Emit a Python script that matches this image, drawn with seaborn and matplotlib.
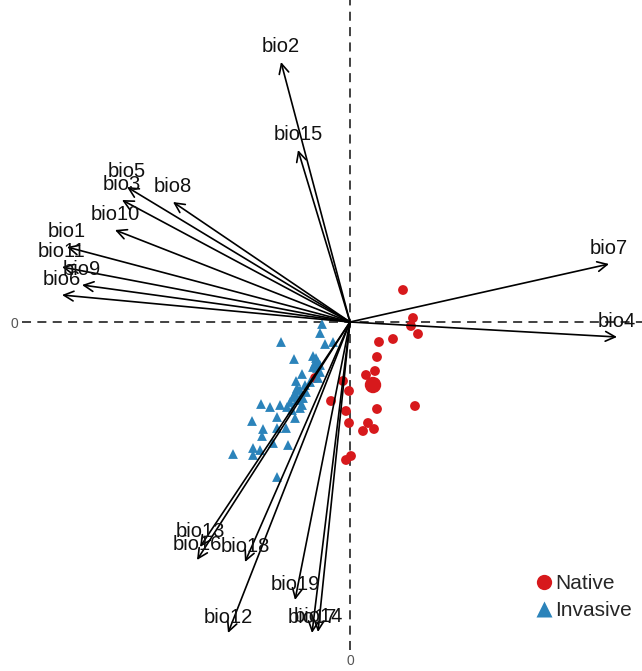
import matplotlib
matplotlib.use("Agg")
import matplotlib.pyplot as plt
from matplotlib.lines import Line2D
import pandas as pd
import seaborn as sns


# biplot loadings (arrow tips), PC1 / PC2
VARIABLES = ["bio1", "bio2", "bio3", "bio4", "bio5", "bio6", "bio7", "bio8", "bio9", "bio10",
             "bio11", "bio12", "bio13", "bio14", "bio15", "bio16", "bio17", "bio18", "bio19"]
LOAD_PC1 = [-2.83, -0.69, -2.28, 2.67, -2.23, -2.88, 2.59, -1.77, -2.68, -2.35,
            -2.88, -1.22, -1.50, -0.32, -0.52, -1.53, -0.38, -1.05, -0.55]
LOAD_PC2 = [0.75, 2.60, 1.22, -0.15, 1.35, 0.27, 0.58, 1.20, 0.37, 0.92,
            0.55, -3.11, -2.25, -3.10, 1.72, -2.38, -3.11, -2.40, -2.78]

# sample scores
NATIVE_PC1 = [0.53, 0.63, 0.61, 0.68, 0.43, 0.29, 0.27, 0.25, 0.16, -0.07, -0.01,
              -0.19, -0.35, 0.27, 0.65, -0.04, -0.01, 0.18, 0.13, 0.24, 0.01, -0.04]
NATIVE_PC2 = [0.32, 0.04, -0.04, -0.12, -0.17, -0.20, -0.35, -0.49, -0.53, -0.59, -0.69,
              -0.79, -0.56, -0.87, -0.84, -0.89, -1.01, -1.01, -1.09, -1.07, -1.34, -1.38]
INVASIVE_PC1 = [-0.28, -0.30, -0.69, -0.25, -0.17, -0.56, -0.37, -0.35, -0.32, -0.33,
                -0.37, -0.30, -0.48, -0.32, -0.54, -0.40, -0.53, -0.50, -0.55, -0.57,
                -0.50, -0.47, -0.53, -0.48, -0.89, -0.80, -0.70, -0.63, -0.50, -0.73,
                -0.55, -0.98, -0.64, -0.73, -0.87, -0.88, -0.77, -0.62, -0.97, -0.90,
                -0.97, -1.17, -0.73, -0.34, -0.30, -0.44, -0.58, -0.45, -0.60]
INVASIVE_PC2 = [-0.02, -0.11, -0.20, -0.22, -0.20, -0.37, -0.34, -0.41, -0.40, -0.46,
                -0.45, -0.50, -0.52, -0.56, -0.59, -0.60, -0.66, -0.68, -0.71, -0.75,
                -0.76, -0.76, -0.78, -0.83, -0.82, -0.85, -0.83, -0.85, -0.86, -0.95,
                -0.96, -0.99, -1.06, -1.06, -1.07, -1.14, -1.21, -1.23, -1.26, -1.28,
                -1.33, -1.32, -1.55, -0.36, -0.43, -0.70, -0.88, -0.63, -0.80]
NATIVE_CENTROID = (0.23, -0.63)

GROUPS = ["Native", "Invasive"]
COLORS = {"Native": "#D7191C", "Invasive": "#2B83BA"}
MARKERS = {"Native": "o", "Invasive": "^"}

sns.set_style("white")
plt.rcParams["font.family"] = ["Liberation Sans", "DejaVu Sans"]

scores = pd.concat([
    pd.DataFrame({"PC1": NATIVE_PC1, "PC2": NATIVE_PC2, "group": "Native"}),
    pd.DataFrame({"PC1": INVASIVE_PC1, "PC2": INVASIVE_PC2, "group": "Invasive"}),
])

fig = plt.figure(figsize=(6.42, 6.71), dpi=100)
ax = fig.add_axes([22 / 642, 21 / 671, 620 / 642, 650 / 671])

ax.axhline(0, color="#333333", lw=1.3, ls=(0, (5, 3.5)), zorder=1)
ax.axvline(0, color="#333333", lw=1.3, ls=(0, (5, 3.5)), zorder=1)

sns.scatterplot(data=scores, x="PC1", y="PC2", hue="group", style="group",
                hue_order=GROUPS, palette=COLORS, markers=MARKERS,
                s=50, edgecolor="none", legend=False, ax=ax, zorder=2)
ax.scatter(*NATIVE_CENTROID, s=140, color=COLORS["Native"], edgecolor="none", zorder=2)

# loading arrows and labels
for name, x, y in zip(VARIABLES, LOAD_PC1, LOAD_PC2):
    ax.annotate("", xy=(x, y), xytext=(0, 0),
                arrowprops=dict(arrowstyle="->,head_length=0.7,head_width=0.35",
                                color="black", lw=1.2, shrinkA=0, shrinkB=0),
                zorder=3)
    ax.annotate(name, xy=(x, y), xytext=(0, 11), textcoords="offset points",
                ha="center", va="center", fontsize=14.5, color="#111111", zorder=4)

ax.set_xlim(-3.28, 2.92)
ax.set_ylim(-3.28, 3.22)
ax.set_xticks([0])
ax.set_yticks([0])
ax.tick_params(length=0, pad=3, labelsize=10, labelcolor="#555555")
ax.set_xlabel("")
ax.set_ylabel("")
sns.despine(ax=ax, left=True, bottom=True)

handles = [Line2D([], [], ls="none", marker=MARKERS[g], color=COLORS[g],
                  markeredgecolor="none", markersize=11) for g in GROUPS]
ax.legend(handles, GROUPS, loc="center left", bbox_to_anchor=(516 / 642, 1 - 597 / 671),
          bbox_transform=fig.transFigure, frameon=False, fontsize=15,
          handlelength=0.9, handletextpad=0.1, labelspacing=0.4, borderpad=0.4)

fig.savefig("out.png", dpi=100)
